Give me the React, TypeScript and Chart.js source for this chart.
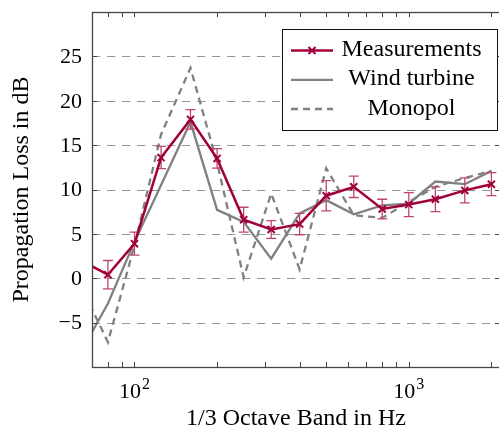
import { useEffect, useRef } from 'react';
import { Chart, registerables } from 'chart.js';

Chart.register(...registerables);

// ---------- data ----------
const bandFrequencies = [63, 80, 100, 125, 160, 200, 250, 315, 400, 500, 630, 800, 1000, 1250, 1600, 2000];
const measurements = [2.1, 0.4, 3.9, 13.6, 17.9, 13.5, 6.6, 5.5, 6.1, 9.3, 10.3, 7.8, 8.3, 8.9, 9.9, 10.6];
const measurementError = [1.5, 1.6, 1.3, 1.25, 1.1, 1.1, 1.4, 1.0, 1.2, 1.7, 1.2, 1.1, 1.35, 1.4, 1.4, 1.3];
const windTurbine = [-8.6, -2.85, 4.1, 10.5, 17.6, 7.7, 6.35, 2.2, 7.3, 8.8, 7.2, 8.2, 8.4, 10.9, 10.6, 12.1];
const monopol = [-0.5, -7.2, 3.7, 16.2, 23.7, 13.0, 0.1, 9.55, 1.0, 12.4, 7.1, 6.8, 8.6, 10.3, 11.3, 12.1];

const xMinorTicks = [70, 80, 90, 100, 200, 300, 400, 500, 600, 700, 800, 900, 1000, 2000];
const xLabelValues = [100, 1000];
const xLabelBases = ['10', '10'];
const xLabelExponents = ['2', '3'];
const yTickValues = [-5, 0, 5, 10, 15, 20, 25];
const yTickLabels = ['\u22125', '0', '5', '10', '15', '20', '25'];
const legendLabels = ['Measurements', 'Wind turbine', 'Monopol'];

const X_MIN = 70;
const X_MAX = 2150;
const Y_MIN = -10;
const Y_MAX = 30;

// ---------- styles ----------
const CRIMSON = 'rgb(160,0,60)';
const ERR_COLOR = 'rgb(190,70,115)';
const GRAY = 'rgb(128,128,128)';
const GRID = 'rgb(150,150,150)';
const FRAME = 'rgb(70,70,70)';
const SERIF = "'Liberation Serif', 'Times New Roman', serif";
const MONO_DASH = [7, 5];

function drawCross(ctx: CanvasRenderingContext2D, x: number, y: number, r: number) {
  ctx.beginPath();
  ctx.moveTo(x - r, y - r);
  ctx.lineTo(x + r, y + r);
  ctx.moveTo(x - r, y + r);
  ctx.lineTo(x + r, y - r);
  ctx.stroke();
}

const errorBarPlugin = {
  id: 'errorBars',
  beforeDatasetDraw(chart: any, args: any) {
    if (args.index !== 0) return;
    const { ctx, chartArea: a, scales } = chart;
    const x = scales.x;
    const y = scales.y;
    ctx.save();
    ctx.beginPath();
    ctx.rect(a.left, a.top, a.right - a.left, a.bottom - a.top);
    ctx.clip();
    ctx.strokeStyle = ERR_COLOR;
    ctx.lineWidth = 1.3;
    bandFrequencies.forEach((f, i) => {
      const px = x.getPixelForValue(f);
      const top = y.getPixelForValue(measurements[i] + measurementError[i]);
      const bot = y.getPixelForValue(measurements[i] - measurementError[i]);
      ctx.beginPath();
      ctx.moveTo(px, top);
      ctx.lineTo(px, bot);
      ctx.moveTo(px - 5, top);
      ctx.lineTo(px + 5, top);
      ctx.moveTo(px - 5, bot);
      ctx.lineTo(px + 5, bot);
      ctx.stroke();
    });
    ctx.restore();
  },
};

const framePlugin = {
  id: 'frame',
  beforeDatasetsDraw(chart: any) {
    const { ctx, chartArea: a, scales } = chart;
    const y = scales.y;
    ctx.save();
    ctx.strokeStyle = GRID;
    ctx.lineWidth = 1;
    ctx.setLineDash([8.3, 6.7]);
    for (const v of yTickValues) {
      const py = Math.round(y.getPixelForValue(v)) + 0.5;
      ctx.beginPath();
      ctx.moveTo(a.left, py);
      ctx.lineTo(a.right, py);
      ctx.stroke();
    }
    ctx.restore();
  },
  afterDraw(chart: any) {
    const { ctx, chartArea: a, scales } = chart;
    const x = scales.x;
    const y = scales.y;
    ctx.save();
    // ticks
    ctx.strokeStyle = FRAME;
    ctx.lineWidth = 1;
    const tl = 5;
    for (const v of xMinorTicks) {
      const px = Math.round(x.getPixelForValue(v)) + 0.5;
      ctx.beginPath();
      ctx.moveTo(px, a.bottom);
      ctx.lineTo(px, a.bottom - tl);
      ctx.moveTo(px, a.top);
      ctx.lineTo(px, a.top + tl);
      ctx.stroke();
    }
    for (const v of yTickValues) {
      const py = Math.round(y.getPixelForValue(v)) + 0.5;
      ctx.beginPath();
      ctx.moveTo(a.left, py);
      ctx.lineTo(a.left + tl, py);
      ctx.moveTo(a.right, py);
      ctx.lineTo(a.right - tl, py);
      ctx.stroke();
    }
    // frame
    ctx.lineWidth = 1.3;
    ctx.strokeRect(a.left + 0.5, a.top + 0.5, a.right - a.left, a.bottom - a.top);

    // y tick labels
    ctx.fillStyle = '#000';
    ctx.font = `22px ${SERIF}`;
    ctx.textAlign = 'right';
    ctx.textBaseline = 'middle';
    yTickValues.forEach((v, i) => {
      ctx.fillText(yTickLabels[i], a.left - 10, y.getPixelForValue(v) + 1);
    });

    // x labels 10^n
    ctx.textBaseline = 'alphabetic';
    ctx.textAlign = 'left';
    xLabelValues.forEach((v, i) => {
      const px = x.getPixelForValue(v);
      ctx.font = `22px ${SERIF}`;
      const w1 = ctx.measureText(xLabelBases[i]).width;
      ctx.font = `16px ${SERIF}`;
      const w2 = ctx.measureText(xLabelExponents[i]).width;
      const start = px - (w1 + 1 + w2) / 2;
      ctx.font = `22px ${SERIF}`;
      ctx.fillText(xLabelBases[i], start, 397.5);
      ctx.font = `16px ${SERIF}`;
      ctx.fillText(xLabelExponents[i], start + w1 + 1, 389);
    });

    // legend
    const L = 282.5, T = 29.5, R = 497.5, B = 130.5;
    ctx.fillStyle = '#fff';
    ctx.fillRect(L, T, R - L, B - T);
    ctx.strokeStyle = '#111';
    ctx.lineWidth = 1;
    ctx.strokeRect(L, T, R - L, B - T);
    const baselines = [56, 85.3, 114.5];
    const styles = [
      { color: CRIMSON, width: 2.5, dash: [] as number[], marker: true },
      { color: GRAY, width: 2.3, dash: [] as number[], marker: false },
      { color: GRAY, width: 2.3, dash: MONO_DASH, marker: false },
    ];
    legendLabels.forEach((label, i) => {
      const s = styles[i];
      const ly = baselines[i] - 5.5;
      ctx.strokeStyle = s.color;
      ctx.lineWidth = s.width;
      ctx.setLineDash(s.dash);
      ctx.beginPath();
      ctx.moveTo(291, ly);
      ctx.lineTo(333, ly);
      ctx.stroke();
      ctx.setLineDash([]);
      if (s.marker) {
        ctx.lineWidth = 2;
        drawCross(ctx, 312, ly, 3.5);
      }
      ctx.fillStyle = '#000';
      ctx.font = `24px ${SERIF}`;
      ctx.textAlign = 'center';
      ctx.fillText(label, 411.5, baselines[i]);
    });
    ctx.restore();
  },
};

function toPoints(values: number[]) {
  return bandFrequencies.map((f, i) => ({ x: f, y: values[i] }));
}

export default function App() {
  const ref = useRef<HTMLCanvasElement>(null);
  useEffect(() => {
    if (!ref.current) return;
    const chart = new Chart(ref.current, {
      type: 'line',
      data: {
        datasets: [
          {
            label: legendLabels[0],
            data: toPoints(measurements),
            borderColor: CRIMSON,
            backgroundColor: CRIMSON,
            borderWidth: 2.5,
            pointStyle: 'crossRot',
            pointRadius: 5,
            pointBorderWidth: 2,
            pointBorderColor: CRIMSON,
            tension: 0,
          },
          {
            label: legendLabels[1],
            data: toPoints(windTurbine),
            borderColor: GRAY,
            borderWidth: 2.3,
            pointRadius: 0,
            tension: 0,
          },
          {
            label: legendLabels[2],
            data: toPoints(monopol),
            borderColor: GRAY,
            borderWidth: 2.3,
            borderDash: MONO_DASH,
            pointRadius: 0,
            tension: 0,
          },
        ],
      } as any,
      options: {
        animation: false,
        responsive: false,
        devicePixelRatio: 1,
        layout: { autoPadding: false, padding: { top: 12, left: 0, right: 0, bottom: 0 } },
        plugins: { legend: { display: false }, tooltip: { enabled: false } },
        scales: {
          x: {
            type: 'logarithmic',
            min: X_MIN,
            max: X_MAX,
            grid: { display: false },
            border: { display: false },
            ticks: { display: false },
            title: {
              display: true,
              text: '1/3 Octave Band in Hz',
              color: '#000',
              font: { family: SERIF, size: 24 },
              padding: { top: 0, bottom: 0 },
            },
            afterFit: (s: any) => {
              s.height = 66;
            },
          },
          y: {
            type: 'linear',
            min: Y_MIN,
            max: Y_MAX,
            grid: { display: false, drawTicks: false },
            border: { display: false },
            ticks: { display: false, stepSize: 5 },
            title: {
              display: true,
              text: 'Propagation Loss in dB',
              color: '#000',
              font: { family: SERIF, size: 24 },
              padding: { top: 7, bottom: 0 },
            },
            afterFit: (s: any) => {
              s.width = 92;
            },
          },
        },
      } as any,
      plugins: [errorBarPlugin, framePlugin],
    });
    return () => chart.destroy();
  }, []);
  return (
    <div style={{ position: 'fixed', left: 0, top: 0, width: 499, height: 433, overflow: 'hidden', background: '#fff' }}>
      <canvas ref={ref} width={500} height={433} style={{ display: 'block' }} />
    </div>
  );
}
